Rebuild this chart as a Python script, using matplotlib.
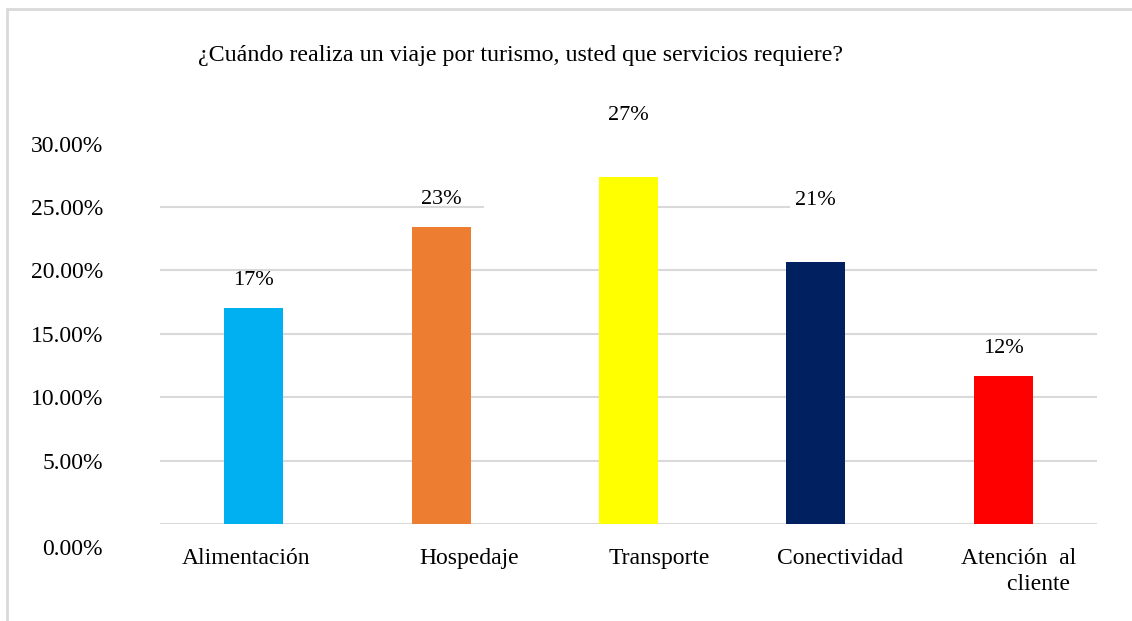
import matplotlib
matplotlib.use("Agg")
import matplotlib.pyplot as plt
from matplotlib.patches import Rectangle
from matplotlib.transforms import ScaledTranslation

# data
categorias = ["Alimentación", "Hospedaje", "Transporte", "Conectividad", "Atención  al\ncliente "]
valores = [0.170, 0.234, 0.274, 0.207, 0.117]
etiquetas = ["17%", "23%", "27%", "21%", "12%"]
colores = ["#00B0F0", "#ED7D31", "#FFFF00", "#002060", "#FF0000"]
yticks = [0.0, 0.05, 0.10, 0.15, 0.20, 0.25, 0.30]
ytick_labels = ["0.00%", "5.00%", "10.00%", "15.00%", "20.00%", "25.00%", "30.00%"]
titulo = "¿Cuándo realiza un viaje por turismo, usted que servicios requiere?"

# layout tweaks (label offsets in px, category label shifts in data units)
label_off = [28, 28, 61, 61, 27]
cat_shift = [-0.04, 0.15, 0.165, 0.13, 0.08]

plt.rcParams['font.family'] = ['Liberation Serif', 'DejaVu Serif']
grid_c = "#d9d9d9"

fig = plt.figure(figsize=(11.32, 6.21), dpi=100)
ax = fig.add_axes([0.1413, 0.1562, 0.8277, 0.6126])

# gridlines (25% one is partly hidden in the original)
for y in yticks[:5]:
    ax.axhline(y, color=grid_c, lw=1.5, zorder=0)
ax.hlines([0.25, 0.25], [-0.5, 2.15], [1.23, 2.86], color=grid_c, lw=1.5, zorder=0)

x = list(range(len(categorias)))
ax.bar(x, valores, width=0.315, color=colores, zorder=2)

for i, v in enumerate(valores):
    ax.annotate(etiquetas[i], (i, v), xytext=(0, label_off[i] * 0.72),
                textcoords='offset points', ha='center', va='center', fontsize=16)

for i, c in enumerate(categorias):
    ax.text(i + cat_shift[i], 0, c, transform=ax.get_xaxis_transform() + ScaledTranslation(0, -0.24, fig.dpi_scale_trans),
            ha='center', va='top', fontsize=17, multialignment='right', linespacing=1.3)

ax.set_xlim(-0.5, 4.5)
ax.set_ylim(0, 0.30)
ax.set_xticks([])
ax.set_yticks(yticks)
ax.set_yticklabels(ytick_labels, fontsize=17)
ax.tick_params(axis='y', length=0, pad=41)
lab0 = ax.get_yticklabels()[0]
lab0.set_transform(lab0.get_transform() + ScaledTranslation(0, -0.23, fig.dpi_scale_trans))
for s in ax.spines.values():
    s.set_visible(False)

fig.text(0.460, 0.911, titulo, ha='center', va='center', fontsize=17.3)

# light frame around the chart
fig.patches.append(Rectangle((7 / 1132, -0.1), 1.2, (621 - 9) / 621 + 0.1,
                             transform=fig.transFigure, fill=False, ec=grid_c, lw=2))

fig.savefig("out.png", dpi=100)
